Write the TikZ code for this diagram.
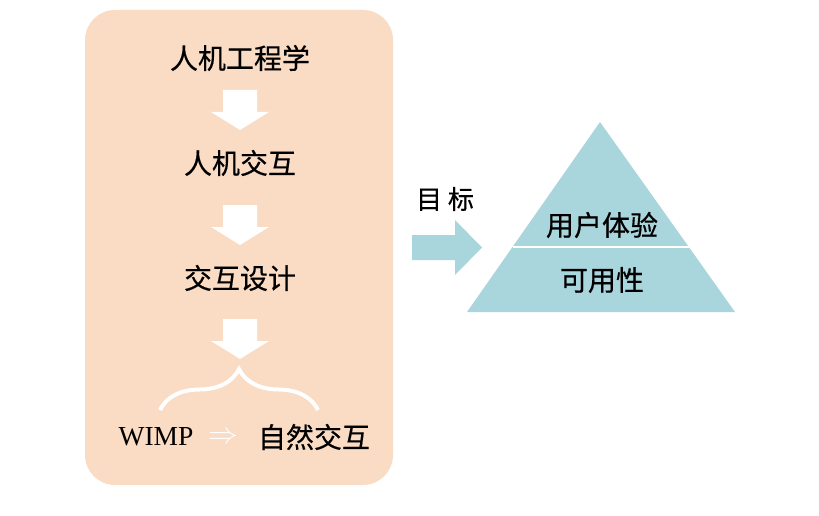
\RequirePackage{fix-cm}
\documentclass[tikz,border=0pt]{standalone}
\usepackage{fontspec}
\setmainfont{Liberation Serif}
\newfontfamily\cjk[FakeBold=0.5]{Noto Sans CJK SC}
\usepackage{tikz}
\usetikzlibrary{
	positioning,
	decorations.pathreplacing
}
\definecolor{peach}{HTML}{FADBC4}
\definecolor{iceblue}{HTML}{A9D5DD}
\tikzset{
	stage/.style={font=\cjk\fontsize{28}{30}\selectfont,inner sep=0pt},
	downarrow/.pic={\fill[white] (-17,0) -- (17,0) -- (17,22) -- (29,22) -- (0,40) -- (-29,22) -- (-17,22) -- cycle;}
}

\begin{document}
\begin{tikzpicture}[x=1pt,y=-1pt]
		\useasboundingbox (0,0) rectangle (819,516);

		% left panel
		\node[fill=peach,rounded corners=30pt,minimum width=308pt,minimum height=475pt,inner sep=0pt] (panel) at (239,247.5) {};

		\node[stage] (erg) at (240,58)  {人机工程学};
		\node[stage] (hci) at (240,163) {人机交互};
		\node[stage] (ixd) at (240,278) {交互设计};

		\pic at (240,90)  {downarrow};
		\pic at (240,205) {downarrow};
		\pic at (240,319) {downarrow};

		\coordinate (bl) at (160,410);
		\coordinate (br) at (318,410);
		\draw[white,line width=4pt,decorate,decoration={brace,amplitude=41pt}] (bl) -- (br);

		\node[font=\fontsize{27.5}{30}\selectfont,inner sep=0pt] (wimp) at (156,437) {WIMP};
		\node[font=\fontsize{30}{32}\selectfont,text=white,inner sep=0pt] (implies) at (223,438) {$\Rightarrow$};
		\node[stage] (nui) at (314,437) {自然交互};

		% goal arrow
		\node[font=\cjk\fontsize{26}{28}\selectfont,inner sep=0pt] (goal) at (445,199) {目 标};
		\fill[iceblue] (412,235) -- (455,235) -- (455,220) -- (482,247.5) -- (455,275) -- (455,260) -- (412,260) -- cycle;

		% pyramid
		\fill[iceblue] (600,122) -- (735,312) -- (467,312) -- cycle;
		\draw[white,line width=2pt] (512.5,247) -- (688.8,247);
		\node[stage] (ux)  at (602,225) {用户体验};
		\node[stage] (use) at (602,280) {可用性};
	\end{tikzpicture}
\end{document}
